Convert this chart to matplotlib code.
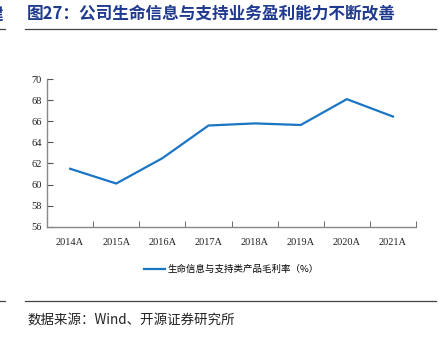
import matplotlib
matplotlib.use("Agg")
import matplotlib.pyplot as plt
from matplotlib.lines import Line2D

years = ["2014A", "2015A", "2016A", "2017A", "2018A", "2019A", "2020A", "2021A"]
margin = [61.5, 60.1, 62.5, 65.6, 65.8, 65.65, 68.1, 66.45]
series_name = "生命信息与支持类产品毛利率（%）"
title = "图27：公司生命信息与支持业务盈利能力不断改善"
source = "数据来源：Wind、开源证券研究所"

cjk = ["Noto Sans CJK SC", "DejaVu Sans"]
serif = ["Liberation Serif", "DejaVu Serif"]

fig = plt.figure(figsize=(4.44, 3.41), dpi=100)
ax = fig.add_axes([0.106, 0.335, 0.831, 0.433])

x = list(range(len(years)))
ax.plot(x, margin, color="#1a75c4", linewidth=1.6, label=series_name)

ax.set_xlim(-0.5, len(years) - 0.5)
ax.set_ylim(56, 70)
ax.set_yticks(range(56, 71, 2))
ax.set_xticks(x)
ax.set_xticklabels(years)
ax.set_xticks([i + 0.5 for i in range(len(years))], minor=True)
ax.tick_params(axis="x", which="major", length=0, pad=8)
ax.tick_params(axis="x", which="minor", direction="in", length=4, color="#555555")
ax.tick_params(axis="y", direction="in", length=4, color="#555555", pad=4)
for lab in ax.get_xticklabels() + ax.get_yticklabels():
    lab.set_fontfamily(serif)
    lab.set_fontsize(7.5)
    lab.set_color("#222222")
for side in ["top", "right"]:
    ax.spines[side].set_visible(False)
for side in ["left", "bottom"]:
    ax.spines[side].set_color("#888888")
    ax.spines[side].set_linewidth(1.0)

leg = ax.legend(loc="upper center", bbox_to_anchor=(0.5, -0.2), frameon=False,
                handlelength=2.2, handletextpad=0.3,
                prop={"family": cjk, "size": 6.8})

fig.text(0.061, 0.958, title, family=cjk, fontsize=12, fontweight="bold",
         color="#1f3a8f", va="center", ha="left")
fig.text(-0.03, 0.958, "建", family=cjk, fontsize=12, fontweight="bold",
         color="#1f3a8f", va="center", ha="left")
fig.text(0.061, 0.062, source, family=cjk, fontsize=9.7, color="#222222",
         va="center", ha="left")

for yy in [0.915, 0.117]:
    fig.add_artist(Line2D([0.056, 0.982], [yy, yy], color="#444444", linewidth=0.9))
    fig.add_artist(Line2D([0.0, 0.012], [yy, yy], color="#444444", linewidth=0.9))

fig.savefig("out.png", dpi=100)
